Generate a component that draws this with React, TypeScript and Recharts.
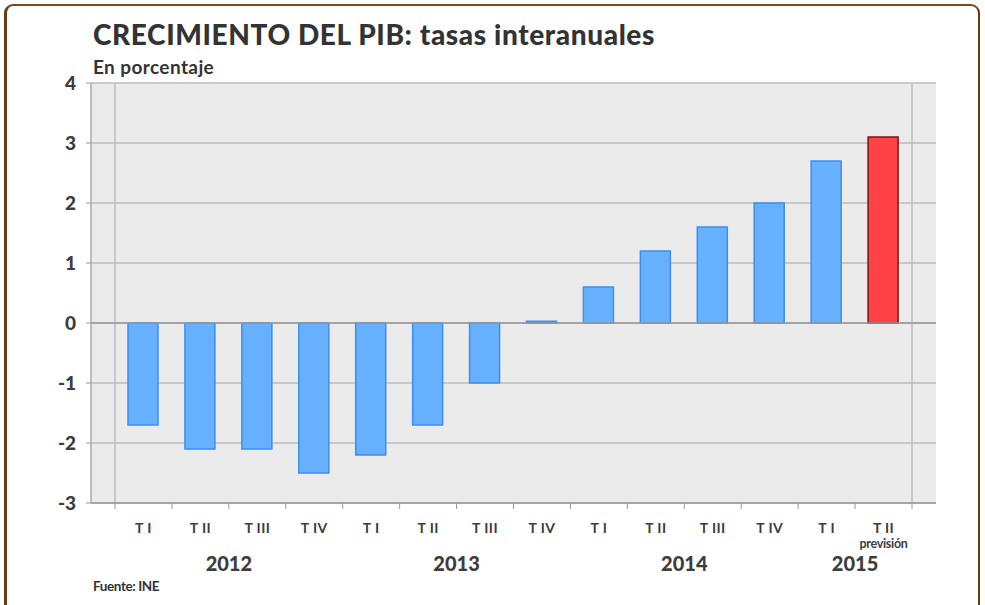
import {
  BarChart,
  Bar,
  XAxis,
  YAxis,
  CartesianGrid,
  ReferenceLine,
  Cell,
} from "recharts";

// Trimestres (eje X)
const quarters = [
  "T I", "T II", "T III", "T IV",
  "T I", "T II", "T III", "T IV",
  "T I", "T II", "T III", "T IV",
  "T I", "T II",
];

// Año de cada trimestre
const years = [
  "2012", "2012", "2012", "2012",
  "2013", "2013", "2013", "2013",
  "2014", "2014", "2014", "2014",
  "2015", "2015",
];

// Tasa interanual, en porcentaje
const growth = [-1.7, -2.1, -2.1, -2.5, -2.2, -1.7, -1.0, 0.03, 0.6, 1.2, 1.6, 2.0, 2.7, 3.1];

// Último trimestre es previsión
const forecast = [
  false, false, false, false, false, false, false,
  false, false, false, false, false, false, true,
];

const yTicks = [-3, -2, -1, 0, 1, 2, 3, 4];

const yearGroups = [
  { label: "2012", start: 0, count: 4 },
  { label: "2013", start: 4, count: 4 },
  { label: "2014", start: 8, count: 4 },
  { label: "2015", start: 12, count: 2 },
];

const data = quarters.map((q, i) => ({
  key: `${years[i]}-${i}`,
  quarter: q,
  value: growth[i],
  forecast: forecast[i],
}));

const FONT = "Lato, 'Open Sans', sans-serif";
const TEXT = "#3d3d3d";
const PAD = 24;

function QuarterTick(props: any) {
  const { x, y, payload, index } = props;
  const half = payload?.offset ?? 28.5;
  const i = payload?.index ?? index;
  const row = data[i];
  const group = yearGroups.find((g) => g.start + g.count / 2 === i);
  return (
    <g>
      <line x1={x - half} y1={y} x2={x - half} y2={y + 6} stroke="#999" />
      {i === data.length - 1 && (
        <line x1={x + half} y1={y} x2={x + half} y2={y + 6} stroke="#999" />
      )}
      <text
        x={x}
        y={y + 30}
        textAnchor="middle"
        fill={TEXT}
        fontFamily={FONT}
        fontWeight={700}
        fontSize={14}
        letterSpacing={0.4}
      >
        {row?.quarter}
      </text>
      {row?.forecast && (
        <text
          x={x}
          y={y + 45}
          textAnchor="middle"
          fill={TEXT}
          fontFamily={FONT}
          fontWeight={700}
          fontSize={12.5}
          letterSpacing={-0.3}
        >
          previsión
        </text>
      )}
      {group && (
        <text
          x={x - half}
          y={y + 68}
          textAnchor="middle"
          fill={TEXT}
          fontFamily={FONT}
          fontWeight={900}
          fontSize={20}
        >
          {group.label}
        </text>
      )}
    </g>
  );
}

export default function App() {
  return (
    <div
      style={{
        position: "fixed",
        left: 0,
        top: 0,
        width: 985,
        height: 605,
        overflow: "hidden",
        background: "#fff",
      }}
    >
      {/* marco marrón */}
      <div
        style={{
          position: "absolute",
          left: 4,
          top: 4,
          width: 976,
          height: 640,
          borderTop: "2px solid #7a4a1e",
          borderLeft: "3px solid #6b3a10",
          borderRight: "2px solid #6b3a10",
          borderRadius: 9,
          boxSizing: "border-box",
        }}
      />

      <svg
        width={985}
        height={605}
        style={{ position: "absolute", left: 0, top: 0, pointerEvents: "none" }}
      >
        <text
          x={93}
          y={45}
          fill="#333"
          fontFamily={FONT}
          fontWeight={900}
          fontSize={28}
          letterSpacing={0.6}
        >
          CRECIMIENTO DEL PIB: tasas interanuales
        </text>
        <text
          x={93}
          y={74}
          fill="#333"
          fontFamily={FONT}
          fontWeight={700}
          fontSize={19}
          letterSpacing={0.4}
        >
          En porcentaje
        </text>
        <text
          x={93}
          y={591}
          fill="#333"
          fontFamily={FONT}
          fontWeight={700}
          fontSize={13.5}
          letterSpacing={-0.4}
        >
          Fuente: INE
        </text>
      </svg>

      <div style={{ position: "absolute", left: 0, top: 0 }}>
        <BarChart
          width={985}
          height={605}
          data={data}
          margin={{ top: 83, right: 49, bottom: 22, left: 51 }}
        >
          <CartesianGrid
            fill="#ebebeb"
            stroke="#bdbdbd"
            strokeWidth={1.5}
            horizontalValues={yTicks}
            verticalCoordinatesGenerator={({ offset }: any) => [
              offset.left + PAD,
              offset.left + offset.width - PAD,
            ]}
          />
          <XAxis
            dataKey="key"
            type="category"
            interval={0}
            padding={{ left: PAD, right: PAD }}
            height={80}
            tickLine={false}
            tickSize={0}
            tickMargin={0}
            axisLine={{ stroke: "#999", strokeWidth: 1.5 }}
            tick={<QuarterTick />}
          />
          <YAxis
            type="number"
            domain={[-3, 4]}
            ticks={yTicks}
            interval={0}
            width={40}
            tickSize={5}
            tickMargin={10}
            axisLine={{ stroke: "#aaa", strokeWidth: 1.5 }}
            tickLine={{ stroke: "#999" }}
            tick={{
              fill: TEXT,
              fontFamily: FONT,
              fontWeight: 900,
              fontSize: 19,
            }}
          />
          <ReferenceLine y={0} stroke="#999" strokeWidth={1.5} />
          <Bar dataKey="value" barSize={30} isAnimationActive={false}>
            {data.map((d) => (
              <Cell
                key={d.key}
                fill={d.forecast ? "#ff4245" : "#66b0ff"}
                stroke={d.forecast ? "#7a1414" : "#3b8ff0"}
                strokeWidth={1.5}
              />
            ))}
          </Bar>
        </BarChart>
      </div>
    </div>
  );
}
